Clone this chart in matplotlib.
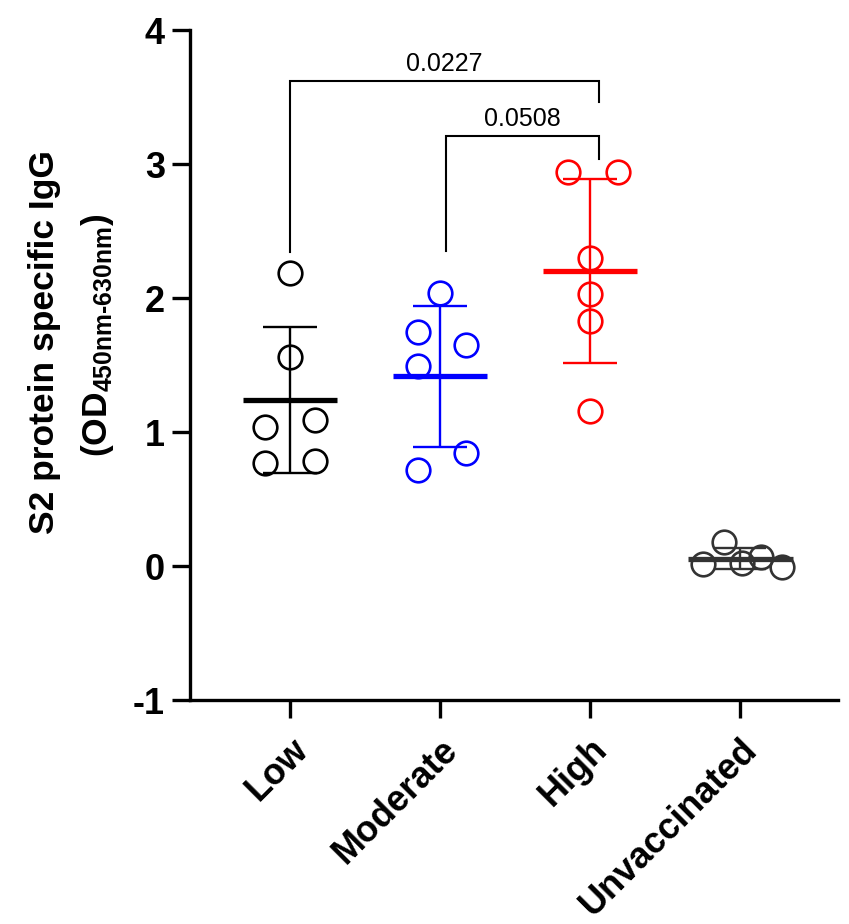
import matplotlib
matplotlib.use("Agg")
import matplotlib.pyplot as plt
import numpy as np

plt.rcParams['font.family'] = ['Liberation Sans', 'DejaVu Sans']
plt.rcParams['mathtext.fontset'] = 'custom'
plt.rcParams['mathtext.rm'] = 'Liberation Sans:bold'
plt.rcParams['mathtext.bf'] = 'Liberation Sans:bold'
plt.rcParams['mathtext.it'] = 'Liberation Sans:bold'

# ---- data ----
categories = ["Low", "Moderate", "High", "Unvaccinated"]
low = [2.19, 1.56, 1.04, 1.09, 0.77, 0.78]
moderate = [2.04, 1.75, 1.65, 1.49, 0.84, 0.72]
high = [2.94, 2.94, 2.30, 2.03, 1.83, 1.16]
unvaccinated = [0.015, 0.18, 0.02, 0.07, -0.01]
groups = [low, moderate, high, unvaccinated]
colors = ["#000000", "#0000FF", "#FF0000", "#333333"]
yticks = [-1, 0, 1, 2, 3, 4]
comparisons = [(0, 2, "0.0227"), (1, 2, "0.0508")]

# horizontal scatter offsets of points (layout only)
offsets = [
    [0.0, 0.0, -0.167, 0.167, -0.167, 0.167],
    [0.0, -0.147, 0.173, -0.147, 0.173, -0.147],
    [-0.147, 0.187, 0.0, 0.0, 0.0, 0.0],
    [-0.25, -0.11, 0.01, 0.14, 0.28],
]

W, H = 849, 924
fig = plt.figure(figsize=(W / 100, H / 100), dpi=100)
ax = fig.add_axes([190 / W, 1 - 700 / H, (838 - 190) / W, (700 - 30) / H])

mean_half = [0.313, 0.313, 0.313, 0.35]
cap_half = [0.18, 0.18, 0.18, 0.17]
for i, (vals, col) in enumerate(zip(groups, colors)):
    v = np.array(vals)
    xs = i + np.array(offsets[i])
    m = v.mean()
    sd = v.std(ddof=1)
    ax.plot(xs, v, linestyle='none', marker='o', markersize=17,
            markerfacecolor='none', markeredgecolor=col, markeredgewidth=1.9,
            zorder=3)
    ax.vlines(i, m - sd, m + sd, color=col, lw=1.7, zorder=2)
    ax.hlines([m - sd, m + sd], i - cap_half[i], i + cap_half[i], color=col, lw=1.7, zorder=2)
    ax.hlines(m, i - mean_half[i], i + mean_half[i], color=col, lw=3.8, zorder=4)

# significance brackets
bracket_geom = [(0.0, 2.06, 3.62, 2.34, 3.46), (1.04, 2.06, 3.21, 2.35, 3.04)]
for (a, b, txt), (x1, x2, top, yl, yr) in zip(comparisons, bracket_geom):
    ax.plot([x1, x1, x2, x2], [yl, top, top, yr], color='black', lw=1.5,
            solid_joinstyle='miter', zorder=2)
    ax.text((x1 + x2) / 2, top + 0.04, txt, ha='center', va='bottom',
            fontsize=18, color='black')

ax.set_xlim(-0.667, 3.653)
ax.set_ylim(-1, 4)
ax.set_yticks(yticks)
ax.set_yticklabels([str(t) for t in yticks])
ax.set_xticks(range(len(categories)))
ax.set_xticklabels(categories, rotation=45, ha='right', va='top',
                   rotation_mode='anchor')

for s in ['top', 'right']:
    ax.spines[s].set_visible(False)
for s in ['left', 'bottom']:
    ax.spines[s].set_linewidth(2.4)
ax.tick_params(axis='both', width=2.4, length=13, direction='out',
               labelsize=26, pad=5)
for lab in ax.get_xticklabels() + ax.get_yticklabels():
    lab.set_fontweight('bold')
ax.tick_params(axis='x', pad=10)

fig.text(45 / W, 1 - 342 / H, "S2 protein specific IgG", rotation=90,
         ha='center', va='center', fontsize=25.5, fontweight='bold')
fig.text(97 / W, 1 - 335 / H, r"$\mathbf{(OD_{450nm\text{-}630nm})}$",
         rotation=90, ha='center', va='center', fontsize=25.5)

fig.savefig("out.png", dpi=100)
